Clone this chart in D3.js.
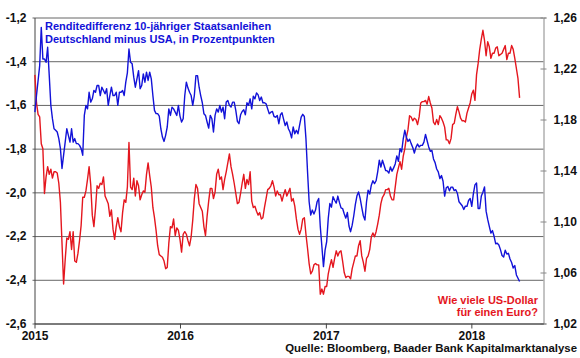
<!DOCTYPE html>
<html lang="de">
<head>
<meta charset="UTF-8">
<title>Renditedifferenz und EUR/USD</title>
<script src="https://cdn.jsdelivr.net/npm/d3@7"></script>
<style>
  body { margin: 0; background: #fff; }
  svg text { font-family: "Liberation Sans", Arial, sans-serif; font-weight: bold; }
</style>
</head>
<body>
<svg id="chart" width="580" height="358"></svg>
<script>
// values every 4 days starting 2 Jan 2015
const startDate = new Date(2015, 0, 2);
const stepDays = 4;

// Renditedifferenz Bund - Treasury 10J, Prozentpunkte (linke Achse)
const spread = [
  -1.633, -1.557, -1.488, -1.420, -1.245, -1.390, -1.390, -1.405, -1.336, -1.466,
  -1.602, -1.663, -1.709, -1.716, -1.724, -1.754, -1.800, -1.891, -1.830, -1.770,
  -1.709, -1.739, -1.770, -1.709, -1.770, -1.754, -1.777, -1.777, -1.785, -1.800,
  -1.830, -1.648, -1.602, -1.618, -1.542, -1.587, -1.572, -1.534, -1.542, -1.511,
  -1.511, -1.557, -1.519, -1.534, -1.549, -1.526, -1.602, -1.557, -1.519, -1.557,
  -1.557, -1.542, -1.602, -1.542, -1.542, -1.534, -1.557, -1.496, -1.453, -1.344,
  -1.405, -1.412, -1.473, -1.519, -1.481, -1.443, -1.526, -1.511, -1.458, -1.496,
  -1.450, -1.488, -1.450, -1.481, -1.557, -1.625, -1.640, -1.640, -1.651, -1.709,
  -1.747, -1.767, -1.739, -1.701, -1.618, -1.648, -1.610, -1.618, -1.633, -1.648,
  -1.602, -1.651, -1.678, -1.663, -1.557, -1.496, -1.523, -1.542, -1.557, -1.602,
  -1.557, -1.466, -1.466, -1.519, -1.557, -1.590, -1.640, -1.648, -1.678, -1.706,
  -1.648, -1.663, -1.724, -1.648, -1.618, -1.633, -1.602, -1.633, -1.610, -1.663,
  -1.587, -1.580, -1.602, -1.610, -1.587, -1.587, -1.625, -1.675, -1.686, -1.645,
  -1.630, -1.622, -1.645, -1.590, -1.602, -1.572, -1.618, -1.560, -1.572, -1.545,
  -1.554, -1.580, -1.564, -1.590, -1.590, -1.595, -1.618, -1.640, -1.633, -1.630,
  -1.653, -1.656, -1.648, -1.686, -1.645, -1.636, -1.666, -1.694, -1.678, -1.709,
  -1.724, -1.751, -1.701, -1.732, -1.716, -1.732, -1.694, -1.656, -1.643, -1.653,
  -1.754, -1.906, -2.043, -2.104, -2.081, -2.099, -2.081, -2.043, -2.028, -2.157,
  -2.248, -2.340, -2.264, -2.226, -2.119, -2.051, -2.068, -2.020, -2.036, -2.049,
  -2.017, -2.046, -2.071, -2.074, -2.098, -2.118, -2.092, -2.154, -2.180, -2.150,
  -2.107, -2.055, -2.016, -1.998, -2.028, -2.069, -2.107, -2.127, -2.043, -1.990,
  -2.008, -1.967, -1.947, -1.960, -1.947, -1.906, -1.853, -1.884, -1.853, -1.876,
  -1.900, -1.902, -1.912, -1.884, -1.903, -1.888, -1.870, -1.833, -1.858, -1.800,
  -1.815, -1.757, -1.716, -1.748, -1.767, -1.757, -1.777, -1.795, -1.820, -1.794,
  -1.779, -1.792, -1.785, -1.785, -1.770, -1.735, -1.764, -1.792, -1.812, -1.808,
  -1.847, -1.864, -1.893, -1.906, -1.937, -1.923, -1.949, -2.017, -1.979, -1.973,
  -1.993, -1.976, -1.976, -1.992, -1.988, -2.005, -2.043, -2.052, -2.061, -2.078,
  -2.063, -2.064, -2.037, -2.028, -2.064, -2.007, -1.966, -1.957, -2.074, -2.074,
  -2.017, -1.999, -1.975, -2.086, -2.124, -2.156, -2.186, -2.175, -2.201, -2.235,
  -2.233, -2.241, -2.262, -2.289, -2.296, -2.265, -2.282, -2.279, -2.305, -2.321,
  -2.346, -2.335, -2.378, -2.393, -2.408
];

// EUR/USD (rechte Achse)
const eurusd = [
  1.215, 1.193, 1.184, 1.182, 1.161, 1.157, 1.122, 1.135, 1.143, 1.137,
  1.141, 1.134, 1.139, 1.139, 1.138, 1.130, 1.115, 1.083, 1.051, 1.070,
  1.087, 1.086, 1.092, 1.078, 1.092, 1.069, 1.068, 1.075, 1.085, 1.097,
  1.119, 1.119, 1.124, 1.133, 1.143, 1.129, 1.105, 1.096, 1.110, 1.128,
  1.126, 1.130, 1.129, 1.135, 1.120, 1.117, 1.114, 1.104, 1.109, 1.094,
  1.086, 1.096, 1.103, 1.096, 1.092, 1.107, 1.117, 1.115, 1.127, 1.162,
  1.127, 1.125, 1.134, 1.120, 1.132, 1.128, 1.117, 1.121, 1.124, 1.123,
  1.137, 1.146, 1.136, 1.127, 1.111, 1.103, 1.093, 1.081, 1.074, 1.073,
  1.072, 1.069, 1.063, 1.064, 1.083, 1.096, 1.095, 1.102, 1.089, 1.095,
  1.093, 1.086, 1.076, 1.090, 1.092, 1.090, 1.085, 1.081, 1.088, 1.101,
  1.118, 1.129, 1.126, 1.114, 1.111, 1.108, 1.096, 1.089, 1.104, 1.116,
  1.126, 1.126, 1.118, 1.123, 1.137, 1.141, 1.133, 1.135, 1.125, 1.133,
  1.139, 1.146, 1.153, 1.143, 1.137, 1.130, 1.122, 1.114, 1.115, 1.122,
  1.130, 1.137, 1.126, 1.133, 1.129, 1.139, 1.116, 1.111, 1.112, 1.108,
  1.105, 1.107, 1.102, 1.103, 1.111, 1.118, 1.125, 1.126, 1.128, 1.132,
  1.127, 1.120, 1.124, 1.121, 1.121, 1.116, 1.121, 1.125, 1.120, 1.123,
  1.126, 1.116, 1.118, 1.112, 1.102, 1.094, 1.090, 1.094, 1.102, 1.103,
  1.090, 1.079, 1.067, 1.059, 1.061, 1.066, 1.067, 1.066, 1.066, 1.043,
  1.047, 1.043, 1.049, 1.049, 1.059, 1.065, 1.070, 1.064, 1.071, 1.077,
  1.073, 1.076, 1.077, 1.069, 1.060, 1.056, 1.057, 1.057, 1.055, 1.063,
  1.068, 1.073, 1.073, 1.081, 1.085, 1.073, 1.068, 1.061, 1.071, 1.073,
  1.078, 1.088, 1.091, 1.088, 1.092, 1.098, 1.105, 1.114, 1.119, 1.121,
  1.125, 1.125, 1.126, 1.120, 1.117, 1.117, 1.127, 1.137, 1.142, 1.147,
  1.141, 1.151, 1.157, 1.166, 1.172, 1.183, 1.182, 1.179, 1.181, 1.180,
  1.176, 1.182, 1.193, 1.194, 1.194, 1.195, 1.192, 1.198, 1.193, 1.189,
  1.178, 1.176, 1.180, 1.176, 1.183, 1.181, 1.178, 1.174, 1.164, 1.164,
  1.161, 1.165, 1.176, 1.177, 1.184, 1.190, 1.186, 1.181, 1.179, 1.179,
  1.178, 1.185, 1.189, 1.193, 1.200, 1.203, 1.195, 1.215, 1.224, 1.235,
  1.243, 1.250, 1.242, 1.230, 1.241, 1.237, 1.228, 1.232, 1.232, 1.236,
  1.237, 1.230, 1.231, 1.232, 1.235, 1.238, 1.227, 1.232, 1.232, 1.238,
  1.235, 1.228, 1.220, 1.212, 1.197
];

const leftTicks = [-2.6, -2.4, -2.2, -2.0, -1.8, -1.6, -1.4, -1.2];
const rightTicks = [1.02, 1.06, 1.10, 1.14, 1.18, 1.22, 1.26];
const yearTicks = [2015, 2016, 2017, 2018];

const titleLines = ["Renditedifferenz 10-jähriger Staatsanleihen", "Deutschland minus USA, in Prozentpunkten"];
const fxLabel = ["Wie viele US-Dollar", "für einen Euro?"];
const sourceText = "Quelle: Bloomberg, Baader Bank Kapitalmarktanalyse";

const blue = "#1212d8", red = "#e4161e", gridColor = "#666";

const svg = d3.select("#chart");
const plotLeft = 34.5, plotRight = 543.5, plotTop = 17.5, plotBottom = 323.5;

const de = d3.formatLocale({ decimal: ",", thousands: ".", grouping: [3], currency: ["", " €"], minus: "-" });

const x = d3.scaleTime()
    .domain([new Date(2015, 0, 1), new Date(2018, 6, 1)])
    .range([plotLeft, plotRight]);
const yL = d3.scaleLinear().domain([-2.6, -1.2]).range([plotBottom, plotTop]);
const yR = d3.scaleLinear().domain([1.02, 1.26]).range([plotBottom, plotTop]);

const dates = spread.map((_, i) => d3.timeDay.offset(startDate, i * stepDays));

// gridlines from left axis
svg.append("g")
    .attr("transform", `translate(${plotLeft},0)`)
    .call(d3.axisLeft(yL).tickValues(leftTicks).tickSize(-(plotRight - plotLeft)).tickSizeOuter(0).tickFormat(""))
    .call(g => g.select(".domain").remove())
    .call(g => g.selectAll(".tick line").attr("stroke", gridColor).attr("x1", -2));

// left labels
svg.append("g")
    .attr("transform", `translate(${plotLeft},0)`)
    .call(d3.axisLeft(yL).tickValues(leftTicks).tickSize(0).tickPadding(8).tickFormat(de.format(".1f")))
    .call(g => g.select(".domain").attr("stroke", "#444"))
    .call(g => g.selectAll("text").attr("font-size", 12).attr("fill", "#111").attr("font-family", null));

// right axis
svg.append("g")
    .attr("transform", `translate(${plotRight},0)`)
    .call(d3.axisRight(yR).tickValues(rightTicks).tickSize(3).tickPadding(7).tickFormat(de.format(".2f")))
    .call(g => g.select(".domain").attr("stroke", "#888"))
    .call(g => g.selectAll(".tick line").attr("stroke", "#888").attr("x1", -3))
    .call(g => g.selectAll("text").attr("font-size", 12).attr("fill", "#111").attr("font-family", null));

// bottom axis
svg.append("g")
    .attr("transform", `translate(0,${plotBottom})`)
    .call(d3.axisBottom(x).tickValues(yearTicks.map(yr => new Date(yr, 0, 1))).tickSize(5).tickSizeOuter(0).tickPadding(3).tickFormat(d3.timeFormat("%Y")))
    .call(g => g.select(".domain").attr("stroke", "#444"))
    .call(g => g.selectAll(".tick line").attr("stroke", "#444"))
    .call(g => g.selectAll("text").attr("font-size", 12).attr("fill", "#111").attr("font-family", null));

// lines
svg.append("path")
    .datum(eurusd)
    .attr("fill", "none")
    .attr("stroke", red)
    .attr("stroke-width", 1.4)
    .attr("stroke-linejoin", "round")
    .attr("d", d3.line().x((d, i) => x(dates[i])).y(d => yR(d)));

svg.append("path")
    .datum(spread)
    .attr("fill", "none")
    .attr("stroke", blue)
    .attr("stroke-width", 1.4)
    .attr("stroke-linejoin", "round")
    .attr("d", d3.line().x((d, i) => x(dates[i])).y(d => yL(d)));

// texts
svg.append("g").selectAll("text")
    .data(titleLines).join("text")
    .attr("x", 45).attr("y", (d, i) => 29.5 + i * 13.5)
    .attr("font-size", 11).attr("fill", blue)
    .text(d => d);

svg.append("g").selectAll("text")
    .data(fxLabel).join("text")
    .attr("x", 538).attr("y", (d, i) => 304 + i * 12)
    .attr("text-anchor", "end")
    .attr("font-size", 11).attr("fill", red)
    .text(d => d);

svg.append("text")
    .attr("x", 577).attr("y", 352)
    .attr("text-anchor", "end")
    .attr("font-size", 11.4).attr("fill", "#111")
    .text(sourceText);
</script>
</body>
</html>
